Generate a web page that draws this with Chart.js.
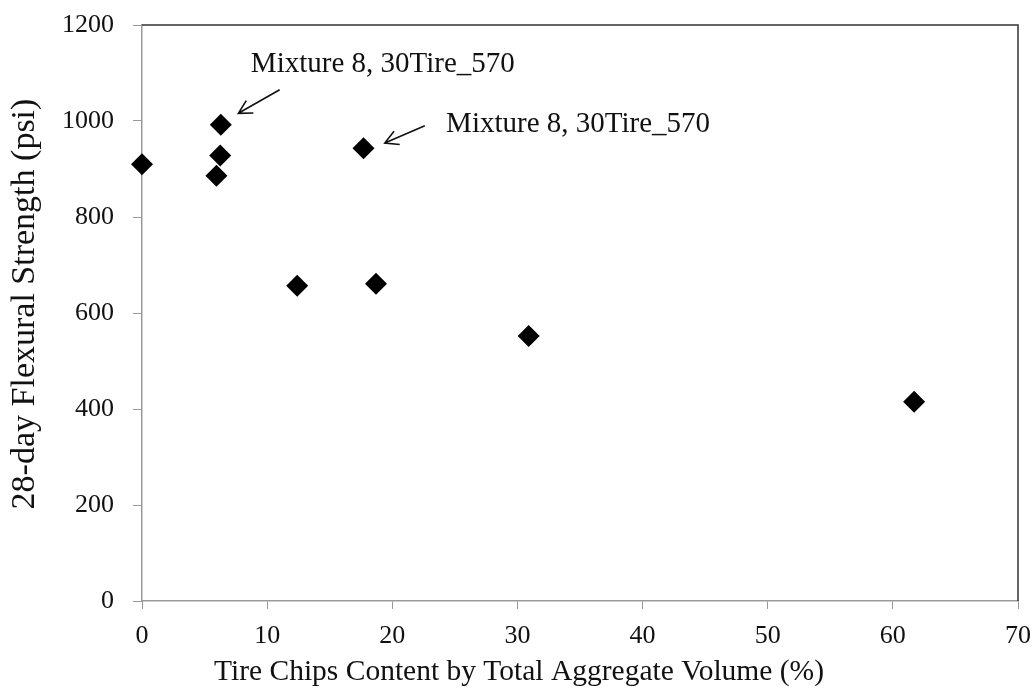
<!DOCTYPE html>
<html>
<head>
<meta charset="utf-8">
<script src="https://cdn.jsdelivr.net/npm/chart.js@4.4.1/dist/chart.umd.min.js"></script>
<style>
  html, body { margin: 0; padding: 0; background: #fff; }
  #wrap { width: 1036px; height: 694px; }
</style>
</head>
<body>
<div id="wrap"><canvas id="flexChart" width="1036" height="694"></canvas></div>
<script>
// tire chip content (% of total aggregate volume) vs 28-day flexural strength (psi)
var tireChips = [0, 6.3, 6.25, 5.95, 17.7, 12.4, 18.7, 30.9, 61.7];
var flexStrength = [910, 992, 928, 886, 943, 657, 661, 552, 415];

var xTicks = [0, 10, 20, 30, 40, 50, 60, 70];
var yTicks = [0, 200, 400, 600, 800, 1000, 1200];

var xTitle = 'Tire Chips Content by Total Aggregate Volume (%)';
var yTitle = '28-day Flexural Strength (psi)';

// callout labels: text anchor and arrow tail -> head, in data units
var calloutText = ['Mixture 8, 30Tire_570', 'Mixture 8, 30Tire_570'];
var calloutTextAt = [[8.7, 1117], [24.3, 992]];
var arrowFrom = [[11.0, 1065], [22.6, 990]];
var arrowTo = [[7.7, 1016], [19.4, 954]];

var serif = '"Liberation Serif", "Times New Roman", serif';

var calloutPlugin = {
    id: 'callouts',
    afterDatasetsDraw: function (chart) {
        var ctx = chart.ctx;
        var xs = chart.scales.x, ys = chart.scales.y;
        var area = chart.chartArea;

        // top and right frame lines
        ctx.save();
        ctx.strokeStyle = '#333';
        ctx.lineWidth = 1.5;
        ctx.beginPath();
        ctx.moveTo(area.left, area.top);
        ctx.lineTo(area.right, area.top);
        ctx.lineTo(area.right, area.bottom);
        ctx.stroke();

        // axis titles (sit a little left of / above the axis centres)
        ctx.fillStyle = '#111';
        ctx.textAlign = 'center';
        ctx.textBaseline = 'middle';
        ctx.font = '29.5px ' + serif;
        ctx.fillText(xTitle, area.left + 377, chart.height - 22);
        ctx.save();
        ctx.translate(25, area.top + 279);
        ctx.rotate(-Math.PI / 2);
        ctx.font = '34px ' + serif;
        ctx.fillText(yTitle, 0, 0);
        ctx.restore();

        ctx.font = '29px ' + serif;
        ctx.textAlign = 'left';
        for (var i = 0; i < calloutText.length; i++) {
            ctx.fillText(calloutText[i], xs.getPixelForValue(calloutTextAt[i][0]), ys.getPixelForValue(calloutTextAt[i][1]));

            var x1 = xs.getPixelForValue(arrowFrom[i][0]), y1 = ys.getPixelForValue(arrowFrom[i][1]);
            var x2 = xs.getPixelForValue(arrowTo[i][0]), y2 = ys.getPixelForValue(arrowTo[i][1]);
            var ang = Math.atan2(y2 - y1, x2 - x1);
            ctx.strokeStyle = '#111';
            ctx.lineWidth = 1.6;
            ctx.beginPath();
            ctx.moveTo(x1, y1);
            ctx.lineTo(x2, y2);
            ctx.moveTo(x2 - 15 * Math.cos(ang - 0.5), y2 - 15 * Math.sin(ang - 0.5));
            ctx.lineTo(x2, y2);
            ctx.lineTo(x2 - 15 * Math.cos(ang + 0.5), y2 - 15 * Math.sin(ang + 0.5));
            ctx.stroke();
        }
        ctx.restore();
    }
};

var points = tireChips.map(function (x, i) { return { x: x, y: flexStrength[i] }; });

var ctx = document.getElementById('flexChart').getContext('2d');
new Chart(ctx, {
    type: 'scatter',
    data: {
        datasets: [{
            label: '28-day flexural strength',
            data: points,
            pointStyle: 'rectRot',
            pointRadius: 11,
            backgroundColor: '#000',
            borderColor: '#000',
            borderWidth: 0,
            clip: false
        }]
    },
    options: {
        responsive: false,
        animation: false,
        layout: { padding: { top: 25, right: 18, left: 0, bottom: 0 } },
        plugins: {
            legend: { display: false },
            tooltip: { enabled: false }
        },
        scales: {
            x: {
                type: 'linear',
                min: 0,
                max: 70,
                afterBuildTicks: function (scale) {
                    scale.ticks = xTicks.map(function (v) { return { value: v }; });
                },
                afterFit: function (scale) {
                    scale.height = 93;
                    scale.paddingLeft = 0;
                    scale.paddingRight = 0;
                },
                grid: { drawOnChartArea: false, color: '#999', tickLength: 8, tickColor: '#999' },
                border: { color: '#999', width: 1.5 },
                ticks: {
                    color: '#111', padding: 12, font: { family: serif, size: 26 },
                    callback: function (v) { return String(v); }
                }
            },
            y: {
                min: 0,
                max: 1200,
                afterBuildTicks: function (scale) {
                    scale.ticks = yTicks.map(function (v) { return { value: v }; });
                },
                afterFit: function (scale) {
                    scale.width = 142;
                    scale.paddingTop = 0;
                    scale.paddingBottom = 0;
                },
                grid: { drawOnChartArea: false, color: '#999', tickLength: 9, tickColor: '#999' },
                border: { color: '#999', width: 1.5 },
                ticks: {
                    color: '#111', padding: 19, font: { family: serif, size: 26 },
                    callback: function (v) { return String(v); }
                }
            }
        }
    },
    plugins: [calloutPlugin]
});
</script>
</body>
</html>
